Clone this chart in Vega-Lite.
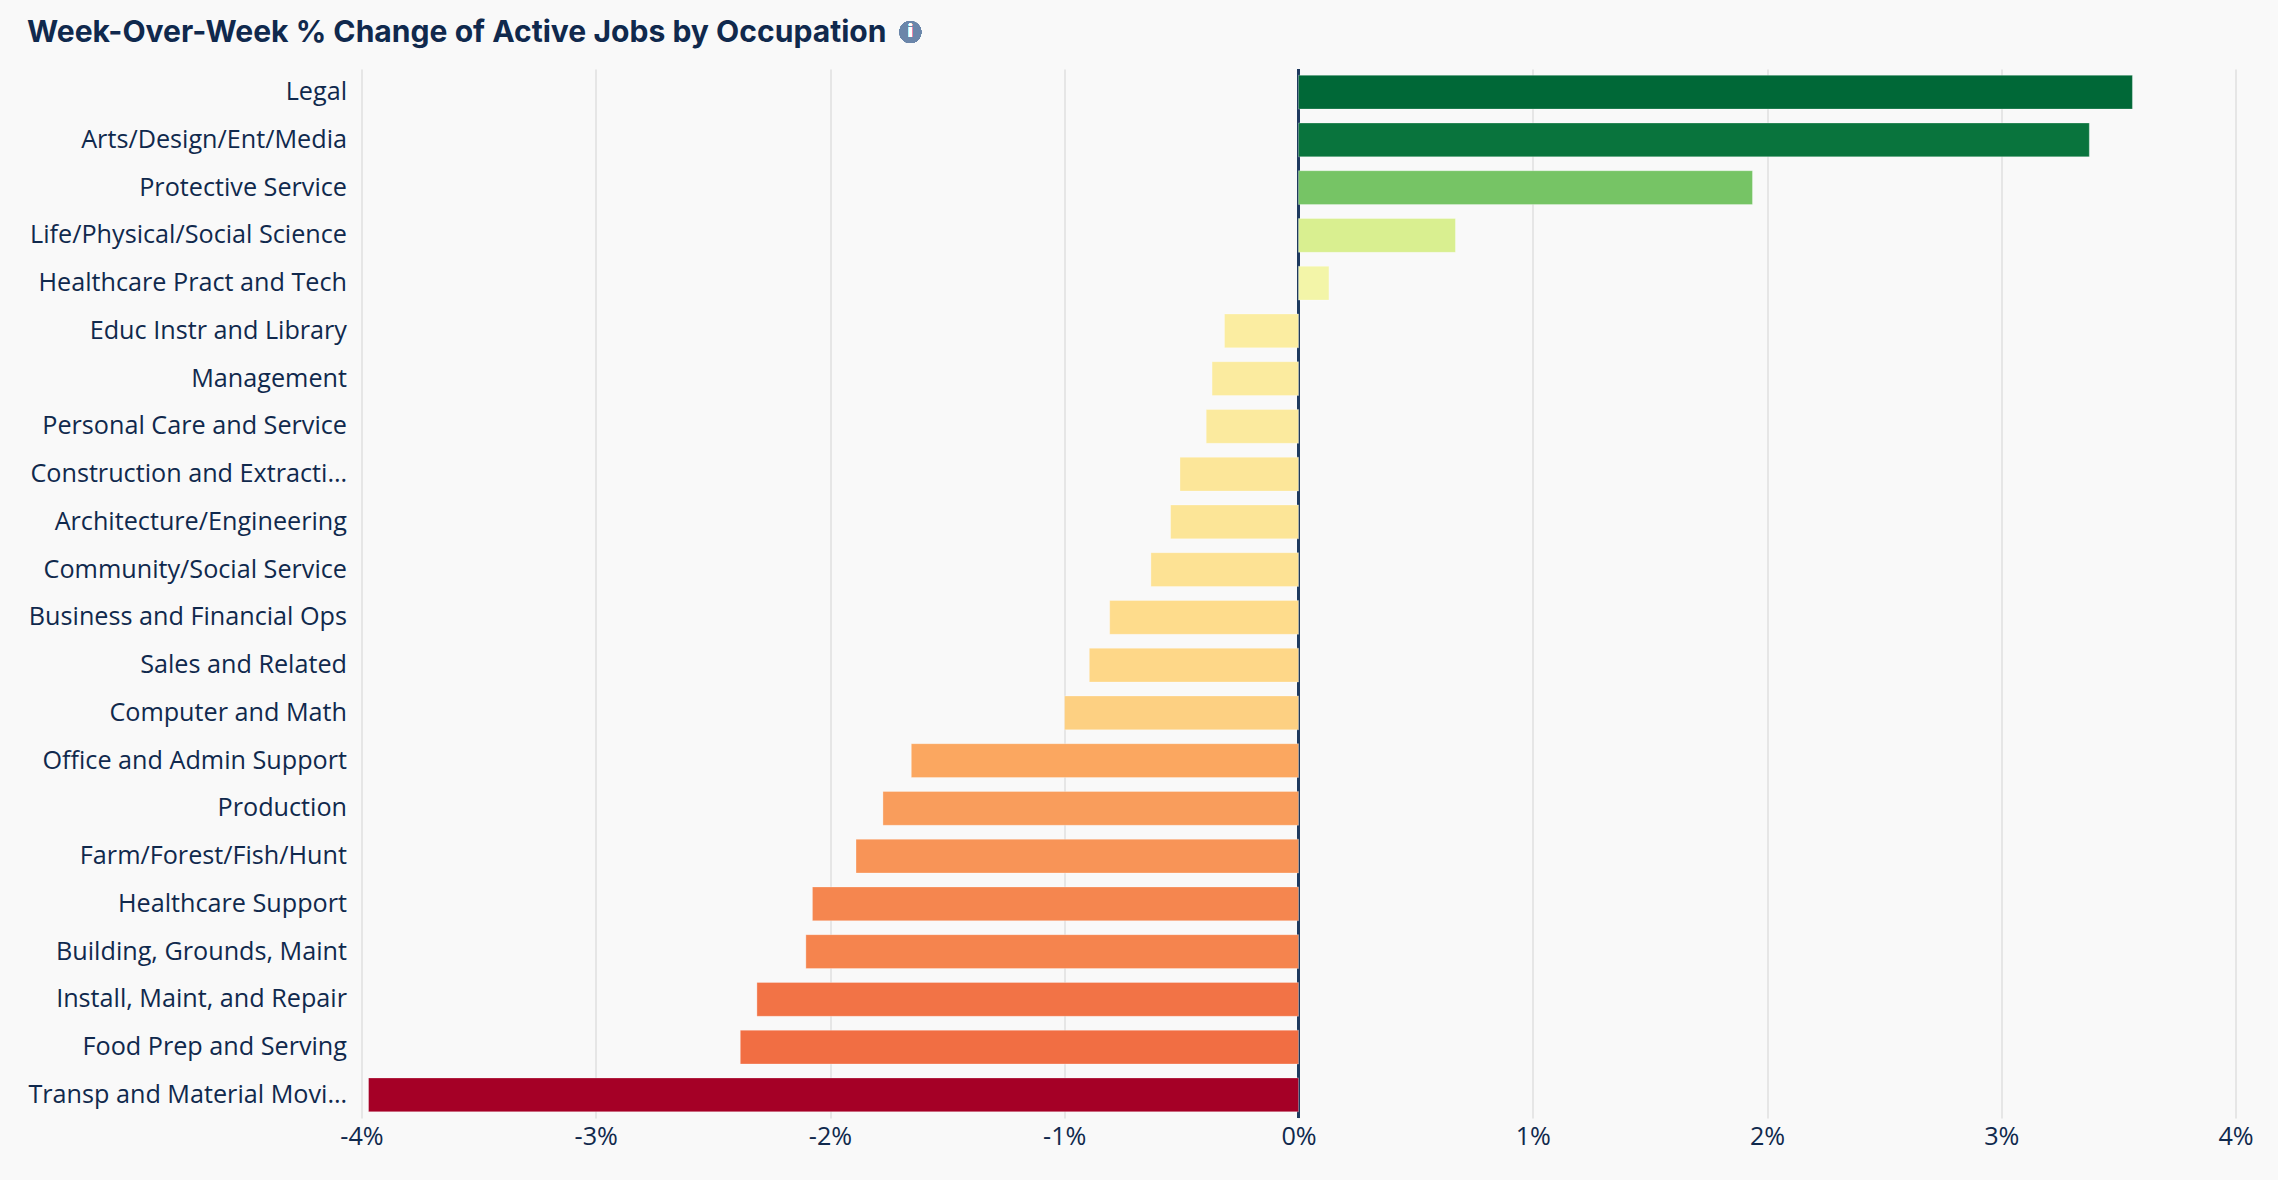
{"$schema":"https://vega.github.io/schema/vega-lite/v6.json","width":1874,"height":1049,"autosize":"none","padding":{"left":361.5,"top":69,"right":42.5,"bottom":62},"background":"#f9f9f9","title":{"text":"Week-Over-Week % Change of Active Jobs by Occupation","anchor":"start","frame":"group","dx":-334.5,"dy":57,"offset":0,"font":"Inter","fontSize":30.1,"fontWeight":700,"color":"#10294d","baseline":"bottom"},"data":{"values":[{"occupation":"Legal","change":3.56},{"occupation":"Arts/Design/Ent/Media","change":3.376},{"occupation":"Protective Service","change":1.938},{"occupation":"Life/Physical/Social Science","change":0.67},{"occupation":"Healthcare Pract and Tech","change":0.13},{"occupation":"Educ Instr and Library","change":-0.316},{"occupation":"Management","change":-0.369},{"occupation":"Personal Care and Service","change":-0.394},{"occupation":"Construction and Extraction","change":-0.506},{"occupation":"Architecture/Engineering","change":-0.546},{"occupation":"Community/Social Service","change":-0.63},{"occupation":"Business and Financial Ops","change":-0.806},{"occupation":"Sales and Related","change":-0.893},{"occupation":"Computer and Math","change":-0.999},{"occupation":"Office and Admin Support","change":-1.653},{"occupation":"Production","change":-1.774},{"occupation":"Farm/Forest/Fish/Hunt","change":-1.889},{"occupation":"Healthcare Support","change":-2.075},{"occupation":"Building, Grounds, Maint","change":-2.103},{"occupation":"Install, Maint, and Repair","change":-2.312},{"occupation":"Food Prep and Serving","change":-2.383},{"occupation":"Transp and Material Moving","change":-3.97}]},"config":{"view":{"stroke":null},"font":"Open Sans"},"layer":[{"mark":{"type":"rule","color":"#1f3a5f","strokeWidth":2},"encoding":{"x":{"datum":0,"type":"quantitative","scale":{"domain":[-4,4],"nice":false}}}},{"mark":{"type":"bar","stroke":"#ffffff","strokeOpacity":0.3,"strokeWidth":1},"encoding":{"y":{"field":"occupation","type":"nominal","sort":null,"title":null,"scale":{"paddingInner":0.29,"paddingOuter":0.13},"axis":{"ticks":false,"domain":false,"labelFont":"Open Sans","labelFontSize":25.2,"labelColor":"#10294d","labelPadding":15,"labelLimit":320}},"x":{"field":"change","type":"quantitative","title":null,"scale":{"domain":[-4,4],"nice":false},"axis":{"values":[-4,-3,-2,-1,0,1,2,3,4],"format":".0f","labelExpr":"datum.value + '%'","labelFlush":false,"ticks":false,"domain":false,"grid":true,"gridColor":"#e6e6e6","gridWidth":2,"labelFont":"Open Sans","labelFontSize":25.2,"labelColor":"#10294d","labelPadding":6}},"color":{"field":"change","type":"quantitative","legend":null,"scale":{"scheme":"redyellowgreen","domainMid":0}}}},{"mark":{"type":"point","filled":true,"size":475,"shape":"circle","color":"#6b86aa","opacity":1,"yOffset":-60,"clip":false},"encoding":{"x":{"datum":-1.657,"type":"quantitative"},"y":{"datum":"Legal","type":"nominal"}}},{"mark":{"type":"text","text":"i","color":"#ffffff","font":"Inter","fontWeight":700,"fontSize":17,"yOffset":-60,"align":"center","baseline":"middle"},"encoding":{"x":{"datum":-1.657,"type":"quantitative"},"y":{"datum":"Legal","type":"nominal"}}}]}
